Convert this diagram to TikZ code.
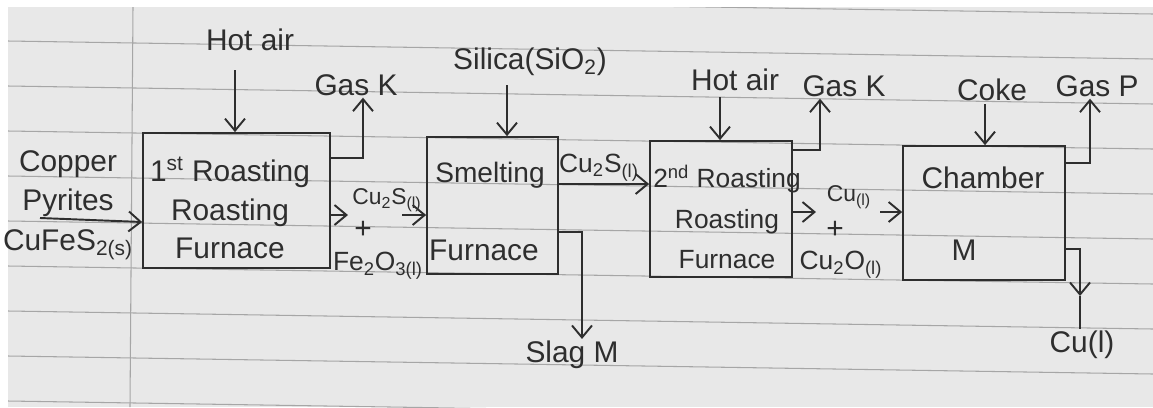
\documentclass[tikz,border=0pt]{standalone}
\usepackage{fontspec}
\setmainfont{Liberation Sans}
\usepackage{tikz}
\usetikzlibrary{arrows.meta}
\definecolor{ink}{HTML}{2E2E2E}
\definecolor{paper}{HTML}{E8E8E8}
\definecolor{ruling}{HTML}{A6A6A6}
\newcommand{\chemsub}[1]{\textsubscript{#1}}

\begin{document}
\begin{tikzpicture}[x=0.02cm,y=-0.02cm,>={Straight Barb[length=2.4mm,width=4mm]},
  unit/.style={draw=ink,line width=1pt,inner sep=0pt},
  lbl/.style={text=ink,font=\fontsize{17}{22}\selectfont,align=center,inner sep=1pt},
  chem/.style={lbl,font=\fontsize{15}{18}\selectfont},
  small/.style={lbl,font=\fontsize{13}{16}\selectfont},
  flow/.style={draw=ink,line width=1.1pt,->},
  pipe/.style={draw=ink,line width=1.1pt},
  rule/.style={draw=ruling,line width=0.6pt}]
\useasboundingbox (0,0) rectangle (1153,407);
% ruled sheet
\fill[paper] (8,7) rectangle (1153,407);
\begin{scope}
\clip (8,7) rectangle (1153,407);
\foreach \k in {-1,...,8}
  \draw[rule] (8,41+45*\k) -- (1153,59+45*\k);
\draw[rule] (133,7) -- (130,407);
\end{scope}
% units
\node[unit,minimum width=3.74cm,minimum height=2.70cm] (roast1) at (236.5,200.5) {};
\node[unit,minimum width=2.62cm,minimum height=2.74cm] (smelt) at (492.5,205.5) {};
\node[unit,minimum width=2.84cm,minimum height=2.72cm] (roast2) at (721,209) {};
\node[unit,minimum width=3.24cm,minimum height=2.68cm] (chamber) at (984,213) {};
\node[lbl] (roast1txt) at (230,208) {1\textsuperscript{st} Roasting\\Roasting\\Furnace};
\node[lbl,font=\fontsize{16}{22}\selectfont] (smelttxt) at (490,175) {Smelting};
\node[lbl] (smeltfur) at (484,250) {Furnace};
\node[lbl,font=\fontsize{15}{23}\selectfont] (roast2txt) at (727,217) {2\textsuperscript{nd} Roasting\\Roasting\\Furnace};
\node[lbl] (chambertxt) at (983,178) {Chamber};
\node[lbl] (chamberM) at (964,250) {M};
% feed
\node[lbl,font=\fontsize{17}{22.7}\selectfont] (copper) at (68,205) {Copper\\Pyrites\\CuFeS\chemsub{2(s)}};
\coordinate (feed) at (40,218);
\draw[flow] (feed) -- (roast1.west |- 0,222);
% 1st roasting
\node[lbl] (hotair1) at (250,40) {Hot air};
\coordinate (hot1in) at (235,70);
\draw[flow] (hot1in) -- (roast1.north -| hot1in);
\node[lbl] (gask1) at (356,85) {Gas K};
\draw[flow] (roast1.east |- 0,158) -| ([xshift=0.14cm]gask1.south);
\coordinate (mix1a) at (348,215);
\coordinate (mix1b) at (402,215);
\node[small] (cu2s1) at (387,200) {Cu\chemsub{2}S\chemsub{(l)}};
\node[lbl] (plus1) at (363,230) {+};
\node[chem] (fe2o3) at (378,266) {Fe\chemsub{2}O\chemsub{3(l)}};
\draw[flow] (roast1.east |- mix1a) -- (mix1a);
\draw[flow] (mix1b) -- (smelt.west |- mix1b);
% smelting
\node[lbl] (silica) at (530,62) {Silica(SiO\chemsub{2})};
\coordinate (silicain) at (507,85);
\draw[flow] (silicain) -- (smelt.north -| silicain);
\draw[flow] (smelt.east |- 0,184) -- node[chem,above,xshift=-0.1cm] (cu2s2) {Cu\chemsub{2}S\chemsub{(l)}} (roast2.west |- 0,184);
\node[lbl] (slag) at (572,355) {Slag M};
\draw[flow] (smelt.east |- 0,232) -| ([xshift=0.2cm]slag.north);
% 2nd roasting
\node[lbl] (hotair2) at (735,80) {Hot air};
\coordinate (hot2in) at (720,97);
\draw[flow] (hot2in) -- (roast2.north -| hot2in);
\node[lbl] (gask2) at (844,86) {Gas K};
\draw[flow] (roast2.east |- 0,150) -| ([xshift=-0.48cm]gask2.south);
\coordinate (mix2a) at (816,212);
\coordinate (mix2b) at (880,212);
\node[small] (cu1) at (849,197) {Cu\chemsub{(l)}};
\node[lbl] (plus2) at (835,230) {+};
\node[chem] (cu2o) at (841,265) {Cu\chemsub{2}O\chemsub{(l)}};
\draw[flow] (roast2.east |- mix2a) -- (mix2a);
\draw[flow] (mix2b) -- (chamber.west |- mix2b);
% chamber
\node[lbl] (coke) at (992,90) {Coke};
\coordinate (cokein) at (985,104);
\draw[flow] (cokein) -- (chamber.north -| cokein);
\node[lbl] (gasp) at (1097,86) {Gas P};
\draw[flow] (chamber.east |- 0,163) -| ([xshift=-0.14cm]gasp.south);
\node[lbl] (cuout) at (1082,345) {Cu(l)};
\coordinate (cuturn) at (1080,296);
\draw[flow] (chamber.east |- 0,249) -| (cuturn);
\draw[pipe] (cuturn) -- (cuout.north -| cuturn);
\end{tikzpicture}
\end{document}
